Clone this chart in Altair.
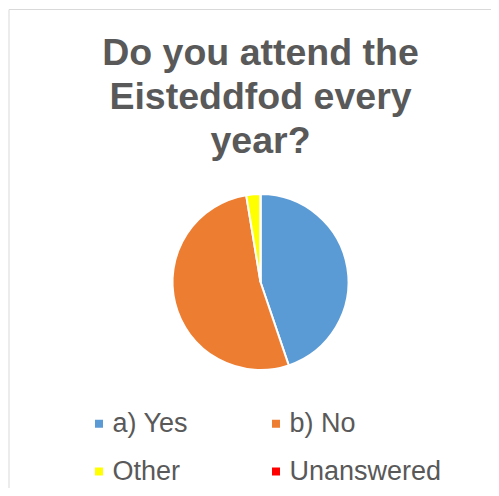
import altair as alt
import pandas as pd

categories = ["a) Yes", "b) No", "Other", "Unanswered"]
values = [44.8, 52.6, 2.6, 0.0]
colors = ["#5B9BD5", "#ED7D31", "#FFFF00", "#FF0000"]
title_lines = ["Do you attend the", "Eisteddfod every", "year?"]

df = pd.DataFrame({"answer": categories, "value": values, "idx": list(range(len(categories)))})

border = alt.Chart(pd.DataFrame({"frame": [0]})).mark_rect(
    fill=None, stroke="#d9d9d9", strokeWidth=1
).encode(
    x=alt.value(0), x2=alt.value(700), y=alt.value(0), y2=alt.value(700)
)

pie = alt.Chart(df).mark_arc(radius=88, stroke="white", strokeWidth=2).encode(
    x=alt.value(251.5),
    y=alt.value(272.5),
    theta=alt.Theta("value:Q", stack=True),
    order=alt.Order("idx:Q"),
    color=alt.Color(
        "answer:N",
        scale=alt.Scale(domain=categories, range=colors),
        sort=categories,
        legend=alt.Legend(
            title=None,
            orient="none",
            legendX=76.5,
            legendY=400.5,
            direction="horizontal",
            columns=2,
            columnPadding=74,
            rowPadding=20,
            symbolType="square",
            symbolSize=64,
            symbolStrokeWidth=0,
            labelFont="Liberation Sans",
            labelFontSize=27,
            labelColor="#595959",
            labelOffset=0,
            labelLimit=400,
            padding=0,
        ),
    ),
)

chart = alt.layer(border, pie).properties(
    width=482,
    height=478,
    title=alt.TitleParams(
        text=title_lines,
        font="Liberation Sans",
        fontSize=37.5,
        fontWeight="bold",
        color="#595959",
        lineHeight=44,
        anchor="middle",
        frame="group",
        baseline="alphabetic",
        offset=-181,
        dx=10.5,
    ),
    autosize=alt.AutoSizeParams(type="none"),
    padding={"left": 1, "top": 1.5, "right": 0, "bottom": 0},
).configure_view(stroke=None)

chart.save("out.html", embed_options={"renderer": "svg", "actions": False})
